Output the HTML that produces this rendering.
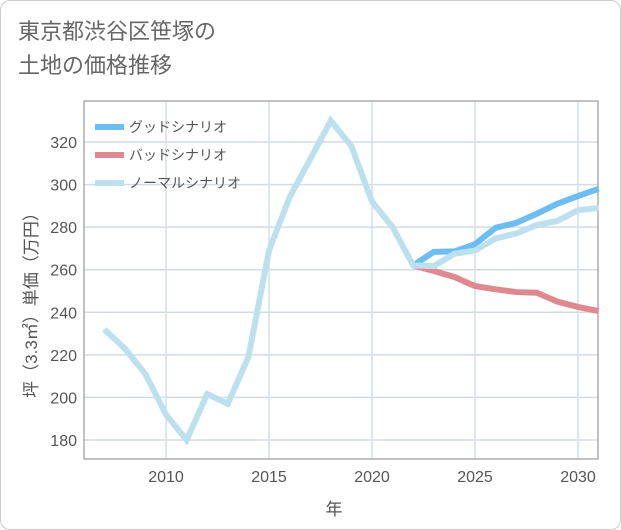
<!DOCTYPE html>
<html><head><meta charset="utf-8"><style>
body{margin:0;background:#fff;}
#wrap{position:relative;width:619px;height:528px;border:1px solid #ccc;border-radius:10px;overflow:hidden;font-family:"Liberation Sans","Noto Sans CJK JP",sans-serif;}
#title{position:absolute;left:17px;top:14px;font-size:22px;line-height:34px;color:#666;}
svg{position:absolute;left:0;top:0;}
</style></head><body>
<div id="wrap">
<div id="title">東京都渋谷区笹塚の<br>土地の価格推移</div>
<svg id="chart" width="621" height="530"></svg>
</div>
<script>
const years=[2007,2008,2009,2010,2011,2012,2013,2014,2015,2016,2017,2018,2019,2020,2021,2022,2023,2024,2025,2026,2027,2028,2029,2030,2031];
const normalValues=[232,223,211,192,180,201.6,197,219,269,294,312,330,318,292,280,262,261.7,267.5,269,274.7,277,281,282.9,287.9,289];
const goodYears=[2022,2023,2024,2025,2026,2027,2028,2029,2030,2031];
const goodValues=[262,268.4,268.6,272,279.7,282,286.3,291,294.6,298];
const badValues=[262,259.4,256.6,252.3,250.8,249.5,249.2,245,242.5,240.6];
const xTicks=[2010,2015,2020,2025,2030];
const yTicks=[180,200,220,240,260,280,300,320];
const legendLabels=["グッドシナリオ","バッドシナリオ","ノーマルシナリオ"];
const colors=["#6bbdf2","#e08890","#bde0ef"];
const L=83,R=597,T=100,B=458;
const x=v=>165+(v-2010)*(577-165)/20;
const y=v=>439-(v-180)*(439-141)/140;
const svg=document.getElementById('chart');
const NS='http://www.w3.org/2000/svg';
function mk(tag,attrs,parent){const e=document.createElementNS(NS,tag);for(const k in attrs)e.setAttribute(k,attrs[k]);(parent||svg).appendChild(e);return e;}
yTicks.forEach(v=>{const l=mk('line',{x1:L,x2:R,y1:y(v),y2:y(v),stroke:'#d3dbe4','stroke-width':1.5});


const t=mk('text',{x:L-7,y:y(v)+6,'text-anchor':'end','font-size':16,fill:'#555'});t.textContent=v;

});
xTicks.forEach(v=>{const l=mk('line',{x1:x(v),x2:x(v),y1:T,y2:B,stroke:'#d3dfea','stroke-width':1.5});


const t=mk('text',{x:x(v),y:B+23,'text-anchor':'middle','font-size':16,fill:'#555'});t.textContent=v;

});
const fr=mk('rect',{x:L,y:T,width:R-L,height:B-T,fill:'none',stroke:'#999','stroke-width':1.2});


function line(xs,vs,c,name){const p=mk('polyline',{points:xs.map((yr,i)=>x(yr)+','+y(vs[i])).join(' '),fill:'none',stroke:c,'stroke-width':6,'stroke-linejoin':'miter'});

}
line(goodYears,badValues,colors[1],'bad-scenario-line');
line(goodYears,goodValues,colors[0],'good-scenario-line');
line(years,normalValues,colors[2],'normal-scenario-line');
legendLabels.forEach((lab,i)=>{const g=mk('g',{});


mk('rect',{x:94,y:123+i*28,width:29,height:6,fill:colors[i]},g);
const t=mk('text',{x:128,y:131+i*28,'font-size':14,fill:'#555'},g);t.textContent=lab;});
const xt=mk('text',{x:333,y:514,'text-anchor':'middle','font-size':17,fill:'#555'});xt.textContent='年';


const yt=mk('text',{x:0,y:0,'text-anchor':'middle','font-size':17,fill:'#555',transform:'translate(36,300) rotate(-90)'});yt.textContent='坪（3.3㎡）単価（万円）';


</script>
</body></html>
